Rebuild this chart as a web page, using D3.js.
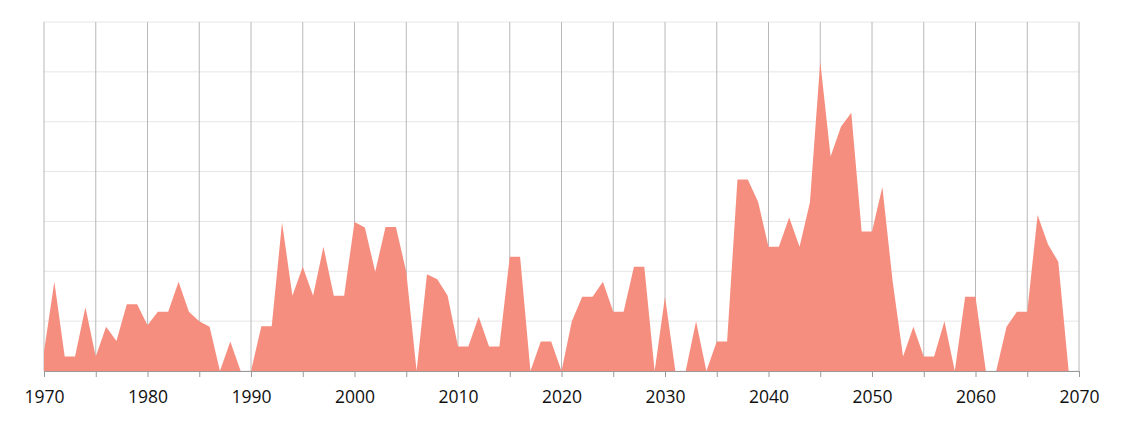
<!DOCTYPE html>
<html>
<head>
<meta charset="utf-8">
<script src="https://cdn.jsdelivr.net/npm/d3@7"></script>
<style>
  body { margin: 0; background: #fff; }
  svg text { font-family: "Open Sans", "Noto Sans", sans-serif; }
</style>
</head>
<body>
<div id="chart"></div>
<script>
// années et valeurs (une valeur par an)
const years = d3.range(1970, 2070);
const values = [
  0.39, 1.79, 0.29, 0.29, 1.28, 0.29, 0.89, 0.60, 1.34, 1.34,
  0.92, 1.19, 1.19, 1.79, 1.19, 1.00, 0.89, 0.00, 0.59, 0.00,
  0.00, 0.90, 0.90, 2.98, 1.51, 2.09, 1.51, 2.49, 1.51, 1.51,
  2.99, 2.88, 1.99, 2.89, 2.89, 1.99, 0.00, 1.94, 1.84, 1.51,
  0.49, 0.49, 1.09, 0.49, 0.49, 2.29, 2.29, 0.00, 0.59, 0.59,
  0.00, 1.00, 1.49, 1.49, 1.79, 1.19, 1.19, 2.09, 2.09, 0.00,
  1.49, 0.00, 0.00, 1.00, 0.00, 0.59, 0.59, 3.84, 3.84, 3.39,
  2.49, 2.49, 3.08, 2.49, 3.38, 6.21, 4.30, 4.90, 5.18, 2.80,
  2.80, 3.69, 1.79, 0.29, 0.89, 0.29, 0.29, 1.00, 0.00, 1.49,
  1.49, 0.00, 0.00, 0.89, 1.19, 1.19, 3.13, 2.54, 2.19, 0.00
];
const xTicks = d3.range(1970, 2071, 5);
const xLabels = d3.range(1970, 2071, 10);
const yTicks = d3.range(0, 8, 1);

const width = 1124, height = 423;
const margin = { top: 22, right: 45, bottom: 52, left: 44 };

const svg = d3.select("#chart").append("svg")
  .attr("width", width)
  .attr("height", height);

const x = d3.scaleLinear()
  .domain([1970, 2070])
  .range([margin.left, width - margin.right]);

const y = d3.scaleLinear()
  .domain([0, 7])
  .range([height - margin.bottom, margin.top]);

// lignes horizontales claires
svg.append("g")
  .selectAll("line")
  .data(yTicks)
  .join("line")
  .attr("x1", x(1970)).attr("x2", x(2070))
  .attr("y1", d => y(d)).attr("y2", d => y(d))
  .attr("stroke", "#e6e6e6")
  .attr("stroke-width", 1);

// lignes verticales tous les 5 ans
svg.append("g")
  .selectAll("line")
  .data(xTicks)
  .join("line")
  .attr("x1", d => x(d)).attr("x2", d => x(d))
  .attr("y1", y(7)).attr("y2", y(0))
  .attr("stroke", "#b8b8b8")
  .attr("stroke-width", 1);

// surface
const area = d3.area()
  .x((d, i) => x(years[i]))
  .y0(y(0))
  .y1(d => y(d));

svg.append("path")
  .datum(values)
  .attr("fill", "#f68e7f")
  .attr("d", area);

// axe du bas
const axis = d3.axisBottom(x)
  .tickValues(xTicks)
  .tickFormat(d => xLabels.includes(d) ? d : "")
  .tickSize(6)
  .tickPadding(14);

const gx = svg.append("g")
  .attr("transform", `translate(0,${y(0)})`)
  .call(axis);

gx.select(".domain").attr("stroke", "#999");
gx.selectAll(".tick line").attr("stroke", "#999");
gx.selectAll(".tick text")
  .attr("fill", "#111")
  .style("font-size", "17.5px");
</script>
</body>
</html>
